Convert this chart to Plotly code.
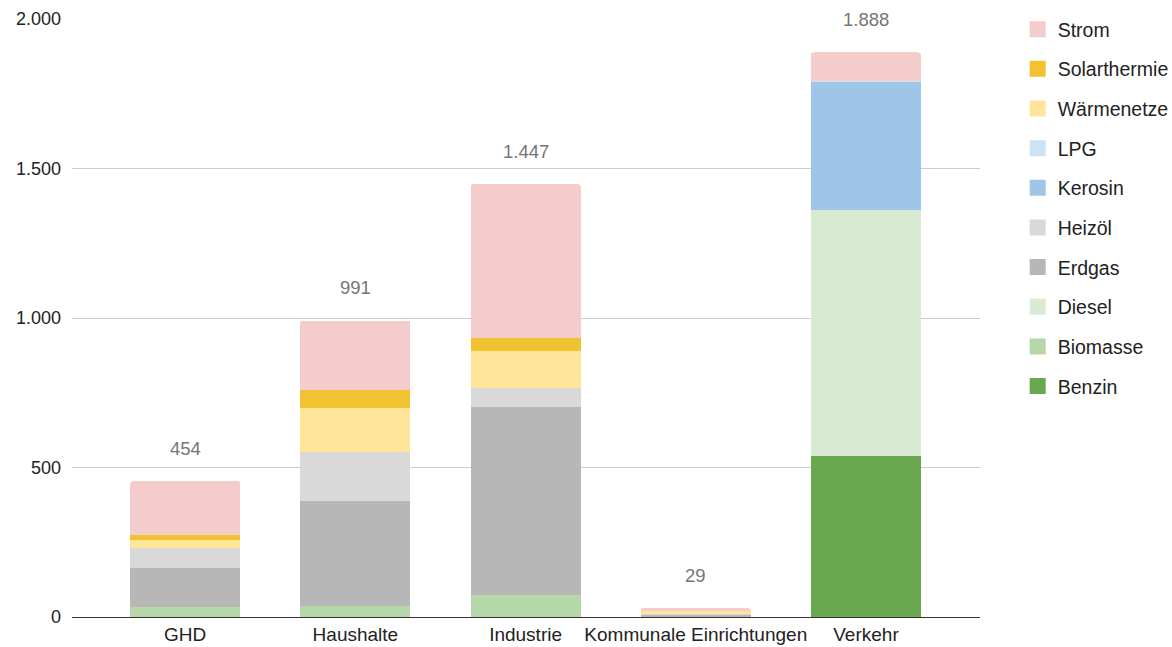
import plotly.graph_objects as go

categories = ["GHD", "Haushalte", "Industrie", "Kommunale Einrichtungen", "Verkehr"]

# stacked bottom -> top
benzin       = [0, 0, 0, 0, 539]
biomasse     = [35, 36, 74, 0, 0]
diesel       = [0, 0, 0, 0, 821]
erdgas       = [130, 352, 628, 8, 0]
heizoel      = [67, 164, 65, 3, 0]
kerosin      = [0, 0, 0, 0, 430]
lpg          = [0, 0, 0, 0, 3]
waermenetze  = [27, 146, 121, 8, 0]
solarthermie = [15, 61, 45, 0, 0]
strom        = [180, 232, 514, 10, 95]

totals = [454, 991, 1447, 29, 1888]
total_labels = ["454", "991", "1.447", "29", "1.888"]

series = [
    ("Benzin", benzin, "#6aa84f"),
    ("Biomasse", biomasse, "#b6d7a8"),
    ("Diesel", diesel, "#d9ead3"),
    ("Erdgas", erdgas, "#b7b7b7"),
    ("Heizöl", heizoel, "#d9d9d9"),
    ("Kerosin", kerosin, "#9fc5e8"),
    ("LPG", lpg, "#cfe2f3"),
    ("Wärmenetze", waermenetze, "#ffe599"),
    ("Solarthermie", solarthermie, "#f1c232"),
    ("Strom", strom, "#f4cccc"),
]

FONT = "Liberation Sans, Arial, sans-serif"

fig = go.Figure()
for name, vals, col in series:
    fig.add_trace(go.Bar(
        x=categories, y=vals, name=name,
        marker=dict(color=col, line=dict(width=0)),
        legendgroup=name, showlegend=False,
    ))
# legend entries (top of stack first) with larger square swatches
for name, vals, col in reversed(series):
    fig.add_trace(go.Scatter(
        x=[None], y=[None], mode="markers", name=name,
        marker=dict(symbol="square", size=16, color=col, line=dict(width=0)),
        legendgroup=name, showlegend=True,
    ))

for c, t, lab in zip(categories, totals, total_labels):
    fig.add_annotation(
        x=c, y=t, text=lab, showarrow=False, yanchor="middle", yshift=33,
        font=dict(family=FONT, size=18.5, color="#757575"),
        bgcolor="white",
    )

fig.update_layout(
    width=1172, height=647,
    margin=dict(l=72, r=192, t=19, b=30, autoexpand=False),
    barmode="stack",
    bargap=0.353,
    barcornerradius=3,
    separators=",.",
    plot_bgcolor="white",
    paper_bgcolor="white",
    font=dict(family=FONT, size=18, color="#222222"),
    legend=dict(
        traceorder="grouped",
        x=1.0415, xanchor="left", y=1.015, yanchor="top",
        font=dict(family=FONT, size=19.5, color="#222222"),
        tracegroupgap=11.3,
        itemwidth=30,
        maxheight=640,
        bgcolor="rgba(0,0,0,0)",
    ),
    xaxis=dict(
        range=[-0.665, 4.67],
        showgrid=False,
        showline=True, linecolor="#333333", linewidth=1,
        ticks="", tickfont=dict(size=19, color="#222222"),
        automargin=False,
    ),
    yaxis=dict(
        range=[0, 2000],
        tickvals=[0, 500, 1000, 1500, 2000],
        tickformat=",d",
        showgrid=True, gridcolor="#cccccc", gridwidth=1,
        zeroline=False,
        ticks="", ticklabelstandoff=10,
        tickfont=dict(size=18, color="#222222"),
        automargin=False,
    ),
)

fig.write_html("out.html")
